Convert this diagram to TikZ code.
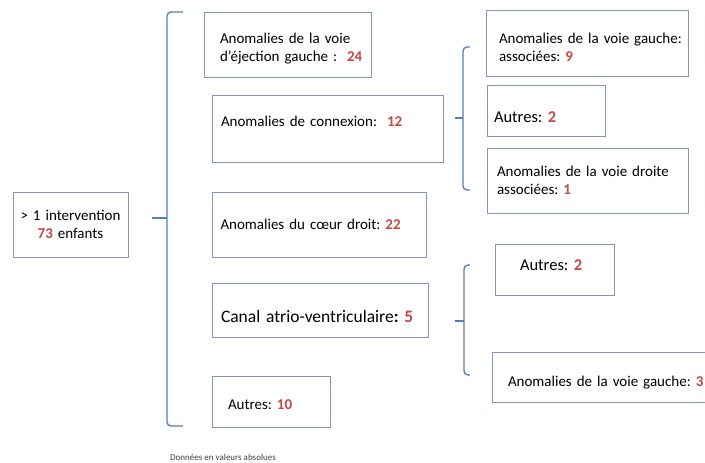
\documentclass[tikz,border=0pt]{standalone}
\usepackage{fontspec}
\setmainfont{Carlito}
\usetikzlibrary{positioning}

\definecolor{cadre}{RGB}{128,152,192}
\definecolor{accolade}{RGB}{88,128,182}
\definecolor{chiffre}{RGB}{196,72,70}
\newcommand{\nb}[1]{\textcolor{chiffre}{\textbf{#1}}}
\frenchspacing
\hfuzz=100pt

\tikzset{
  boite/.style={draw=cadre, line width=0.9pt, fill=white, inner ysep=0pt,
    align=left, font=\fontsize{15}{18}\selectfont},
  accol/.style={draw=accolade, line width=1.4pt, rounded corners=4pt},
}

\begin{document}
\begin{tikzpicture}[x=1pt,y=-1pt]

  \clip (0,0) rectangle (705,463);
  \fill[white] (0,0) rectangle (705,463);

  \def\accolA{(183,12) -- (167,12) -- (167,426) -- (183,426)}
  \def\accolB{(470,47) -- (463,47) -- (463,190) -- (470,190)}
  \def\accolC{(470,265) -- (464,265) -- (464,375) -- (470,375)}

  % point de depart
  \node[boite, text width=115pt, inner xsep=0pt, align=center, minimum height=65pt] (enfants) at (70.5,224.5)
    {> 1 intervention\\\nb{73} enfants};

  % premier niveau
  \node[boite, text width=135pt, inner xsep=16pt, minimum height=65pt, text height=19pt] (ejection) at (287.5,44.5)
    {\mbox{Anomalies de la voie}\\\mbox{d’éjection gauche :\ \ \nb{24}}};
  \node[boite, text width=213pt, inner xsep=9pt, minimum height=67pt, text depth=15pt] (connexion) at (327.5,128.5)
    {Anomalies de connexion:\ \ \nb{12}};
  \node[boite, text width=198pt, inner xsep=8pt, minimum height=65pt] (coeurdroit) at (319.5,224.5)
    {Anomalies du cœur droit: \nb{22}};
  \node[boite, text width=198pt, inner xsep=9pt, minimum height=54pt, text height=25pt,
    font=\fontsize{17.5}{20}\selectfont] (canal) at (320,310)
    {\mbox{Canal atrio-ventriculaire\textbf{:} \nb{5}}};
  \node[boite, text width=86pt, inner xsep=16pt, minimum height=51pt, text height=16pt] (autres) at (271,401.5)
    {Autres: \nb{10}};

  % second niveau
  \node[boite, text width=176pt, inner xsep=13pt, minimum height=66pt, text height=19pt] (gauche) at (587,43)
    {\mbox{Anomalies de la voie gauche:}\\\mbox{associées: \nb{9}}};
  \node[boite, text width=104pt, inner xsep=7pt, minimum height=51pt, text height=23.5pt,
    font=\fontsize{16.5}{19}\selectfont] (autresA) at (546,110.5)
    {Autres: \nb{2}};
  \node[boite, text width=181pt, inner xsep=10pt, minimum height=65pt] (droite) at (587.5,180.5)
    {\mbox{Anomalies de la voie droite}\\\mbox{associées: \nb{1}}};
  \node[boite, text width=69pt, inner xsep=25pt, minimum height=51pt, text depth=9pt,
    font=\fontsize{16.5}{19}\selectfont] (autresB) at (554.5,269.5)
    {\mbox{Autres: \nb{2}}};
  \node[boite, text width=208pt, inner xsep=16pt, minimum height=50pt, text height=21pt] (gaucheB) at (612,377)
    {\mbox{Anomalies de la voie gauche: \nb{3}}};

  % accolades
  \coordinate (pointeA) at (152,218);
  \coordinate (pointeB) at (455,118);
  \coordinate (pointeC) at (455,321);

  \draw[accol] \accolA;
  \draw[accol] \accolB;
  \draw[accol] \accolC;
  \draw[accol] (pointeA) -- +(15,0);
  \draw[accol] (pointeB) -- +(8,0);
  \draw[accol] (pointeC) -- +(9,0);

  \node[font=\fontsize{9}{10}\selectfont, text=black!75, anchor=west, inner sep=0pt] (source) at (170,457)
    {Données en valeurs absolues};

\end{tikzpicture}
\end{document}
